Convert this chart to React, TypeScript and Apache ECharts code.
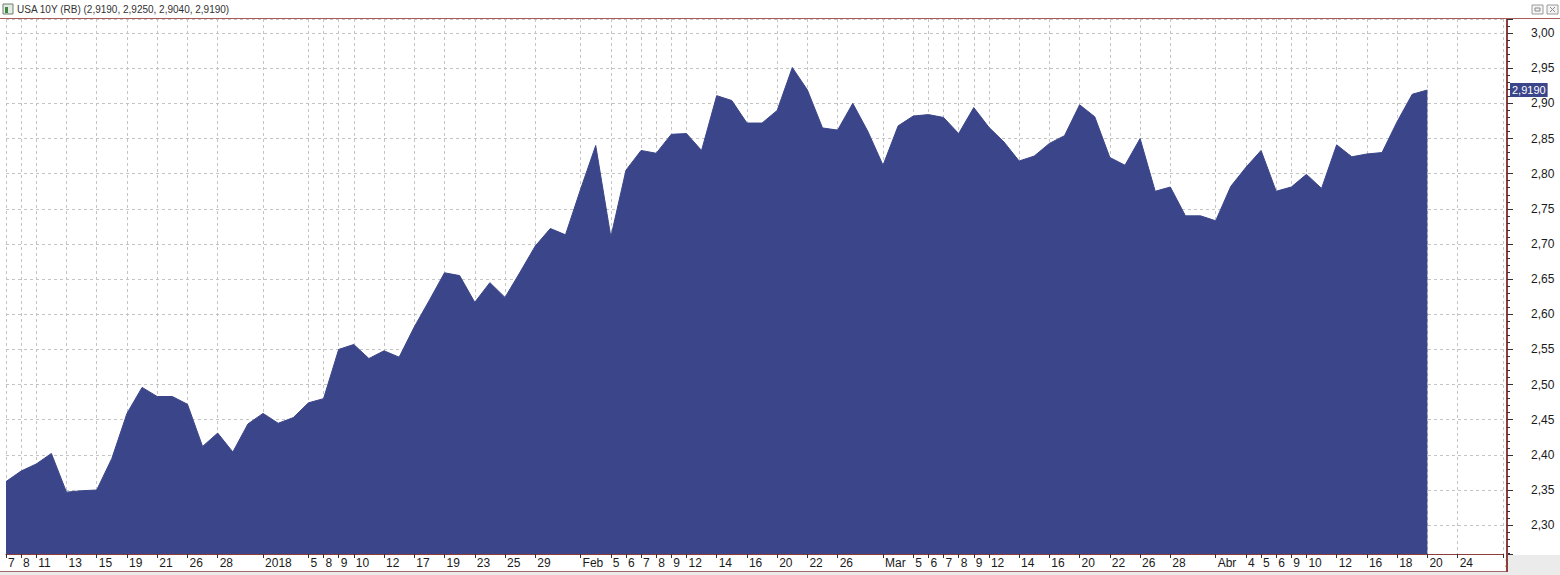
import React, { useEffect, useRef } from "react";
import * as echarts from "echarts";

// Trading days on the category axis (the last five are still empty)
const dates = [
  "2017-12-07", "2017-12-08", "2017-12-11", "2017-12-12", "2017-12-13", "2017-12-14", "2017-12-15",
  "2017-12-18", "2017-12-19", "2017-12-20", "2017-12-21", "2017-12-22", "2017-12-26", "2017-12-27",
  "2017-12-28", "2017-12-29", "2018-01-01", "2018-01-02", "2018-01-03", "2018-01-04", "2018-01-05",
  "2018-01-08", "2018-01-09", "2018-01-10", "2018-01-11", "2018-01-12", "2018-01-16", "2018-01-17",
  "2018-01-18", "2018-01-19", "2018-01-22", "2018-01-23", "2018-01-24", "2018-01-25", "2018-01-26",
  "2018-01-29", "2018-01-30", "2018-01-31", "2018-02-01", "2018-02-02", "2018-02-05", "2018-02-06",
  "2018-02-07", "2018-02-08", "2018-02-09", "2018-02-12", "2018-02-13", "2018-02-14", "2018-02-15",
  "2018-02-16", "2018-02-19", "2018-02-20", "2018-02-21", "2018-02-22", "2018-02-23", "2018-02-26",
  "2018-02-27", "2018-02-28", "2018-03-01", "2018-03-02", "2018-03-05", "2018-03-06", "2018-03-07",
  "2018-03-08", "2018-03-09", "2018-03-12", "2018-03-13", "2018-03-14", "2018-03-15", "2018-03-16",
  "2018-03-19", "2018-03-20", "2018-03-21", "2018-03-22", "2018-03-23", "2018-03-26", "2018-03-27",
  "2018-03-28", "2018-03-29", "2018-03-30", "2018-04-02", "2018-04-03", "2018-04-04", "2018-04-05",
  "2018-04-06", "2018-04-09", "2018-04-10", "2018-04-11", "2018-04-12", "2018-04-13", "2018-04-16",
  "2018-04-17", "2018-04-18", "2018-04-19", "2018-04-20", "2018-04-23", "2018-04-24", "2018-04-25",
  "2018-04-26", "2018-04-27",
];

// Daily close of the USA 10Y yield
const yields = [
  2.362, 2.377, 2.387, 2.402, 2.347, 2.349, 2.350, 2.395, 2.459, 2.496,
  2.483, 2.483, 2.472, 2.412, 2.431, 2.404, 2.444, 2.459, 2.445, 2.453,
  2.474, 2.480, 2.550, 2.557, 2.537, 2.548, 2.539, 2.582, 2.620, 2.659,
  2.655, 2.617, 2.645, 2.624, 2.660, 2.697, 2.722, 2.713, 2.778, 2.840,
  2.710, 2.805, 2.833, 2.829, 2.856, 2.857, 2.833, 2.911, 2.904, 2.872,
  2.872, 2.890, 2.951, 2.919, 2.865, 2.862, 2.900, 2.860, 2.812, 2.868,
  2.882, 2.884, 2.880, 2.857, 2.894, 2.866, 2.845, 2.818, 2.825, 2.843,
  2.854, 2.898, 2.881, 2.823, 2.812, 2.850, 2.775, 2.781, 2.740, 2.740,
  2.733, 2.782, 2.809, 2.833, 2.775, 2.781, 2.799, 2.779, 2.841, 2.824,
  2.828, 2.830, 2.874, 2.913, 2.919,
];

// Dates that carry a tick label on the time axis
const labelledDates = [
  "2017-12-07", "2017-12-08", "2017-12-11", "2017-12-13", "2017-12-15", "2017-12-19", "2017-12-21",
  "2017-12-26", "2017-12-28", "2018-01-02", "2018-01-05", "2018-01-08", "2018-01-09", "2018-01-10",
  "2018-01-12", "2018-01-17", "2018-01-19", "2018-01-23", "2018-01-25", "2018-01-29", "2018-02-01",
  "2018-02-05", "2018-02-06", "2018-02-07", "2018-02-08", "2018-02-09", "2018-02-12", "2018-02-14",
  "2018-02-16", "2018-02-20", "2018-02-22", "2018-02-26", "2018-03-01", "2018-03-05", "2018-03-06",
  "2018-03-07", "2018-03-08", "2018-03-09", "2018-03-12", "2018-03-14", "2018-03-16", "2018-03-20",
  "2018-03-22", "2018-03-26", "2018-03-28", "2018-04-02", "2018-04-04", "2018-04-05", "2018-04-06",
  "2018-04-09", "2018-04-10", "2018-04-12", "2018-04-16", "2018-04-18", "2018-04-20", "2018-04-24",
  "2018-04-27",
];

// First trading day of each period and its label
const periodStartDates = ["2018-01-02", "2018-02-01", "2018-03-01", "2018-04-02"];
const periodStartLabels = ["2018", "Feb", "Mar", "Abr"];

const instrumentName = "USA 10Y (RB)";
const lastBarOHLC = [2.919, 2.925, 2.904, 2.919];

const FONT = "Arial, 'Liberation Sans', sans-serif";
const AREA = "#3b4589";
const AXIS_RED = "#8e3d3d";

const fmt = (v: number, d: number) => v.toFixed(d).replace(".", ",");

export default function App() {
  const ref = useRef<HTMLDivElement>(null);

  useEffect(() => {
    const chart = echarts.init(ref.current!, null, { renderer: "svg" });
    const labelSet = new Set(labelledDates);
    const periodMap: Record<string, string> = {};
    periodStartDates.forEach((d, i) => (periodMap[d] = periodStartLabels[i]));
    const isLabelled = (_i: number, v: string) => labelSet.has(v);
    const isPeriod = (_i: number, v: string) => v in periodMap;
    const lastValue = yields[yields.length - 1];
    const title = `${instrumentName} (${lastBarOHLC.map((v) => fmt(v, 4)).join(", ")})`;

    const option: any = {
      animation: false,
      backgroundColor: "#ffffff",
      textStyle: { fontFamily: FONT },
      grid: [
        { left: 6, right: 57, top: 19, height: 535 },
        { left: 6, right: 57, top: 554, height: 17 },
      ],
      xAxis: [
        {
          type: "category",
          gridIndex: 0,
          data: dates,
          boundaryGap: false,
          position: "bottom",
          axisLine: { show: true, lineStyle: { color: AXIS_RED, width: 1 } },
          axisTick: { show: true, interval: isLabelled, length: 4, lineStyle: { color: "#333" } },
          axisLabel: {
            interval: isLabelled,
            formatter: (v: string) => periodMap[v] ?? String(Number(v.slice(8))),
            align: "left",
            margin: 3,
            padding: [0, 0, 0, 2],
            fontSize: 12,
            color: "#1a1a1a",
            fontFamily: FONT,
            showMaxLabel: true,
          },
          splitLine: {
            show: true,
            interval: isLabelled,
            lineStyle: { color: "#c4c4c4", type: [3, 3], width: 1 },
          },
        },
        {
          type: "category",
          gridIndex: 1,
          data: dates,
          boundaryGap: false,
          position: "top",
          axisLine: { show: false },
          axisTick: { show: true, inside: true, interval: isPeriod, length: 17, lineStyle: { color: "#333" } },
          axisLabel: { show: false },
          splitLine: { show: false },
        },
      ],
      yAxis: [
        {
          type: "value",
          gridIndex: 0,
          position: "right",
          offset: 4,
          min: 2.259,
          max: 3.02,
          splitNumber: 15,
          axisLine: { show: true, lineStyle: { color: AXIS_RED, width: 2 } },
          axisTick: { show: true, length: 6, lineStyle: { color: "#333" } },
          minorTick: { show: true, splitNumber: 5, length: 3, lineStyle: { color: "#333" } },
          axisLabel: {
            margin: 24,
            fontSize: 12,
            color: "#1a1a1a",
            fontFamily: FONT,
            showMinLabel: false,
            showMaxLabel: false,
            formatter: (v: number) => fmt(v, 2),
          },
          splitLine: { show: true, lineStyle: { color: "#c4c4c4", type: [3, 3], width: 1 } },
        },
        { type: "value", gridIndex: 1, show: false },
      ],
      series: [
        {
          type: "line",
          xAxisIndex: 0,
          yAxisIndex: 0,
          data: yields,
          symbol: "none",
          smooth: false,
          lineStyle: { color: AREA, width: 1 },
          areaStyle: { color: AREA, opacity: 1, origin: "start" },
          markLine: {
            silent: true,
            symbol: "none",
            z: 20,
            precision: 4,
            lineStyle: { color: "rgba(0,0,0,0)", width: 0, type: "solid" },
            data: [{ yAxis: lastValue }],
            label: {
              show: true,
              position: "end",
              distance: 7,
              opacity: 1,
              formatter: () => fmt(lastValue, 4),
              backgroundColor: AREA,
              color: "#ffffff",
              fontSize: 11,
              fontFamily: FONT,
              padding: [2, 2, 1, 2],
            },
          },
        },
      ],
      graphic: [
        // title bar
        { type: "rect", shape: { x: 3, y: 4, width: 10, height: 10 }, style: { fill: "#e4ebe4", stroke: "#6f7f6f", lineWidth: 1 }, z: 100 },
        { type: "rect", shape: { x: 5, y: 7, width: 3, height: 6 }, style: { fill: "#3d8a44" }, z: 101 },
        {
          type: "text",
          x: 17,
          y: 4,
          style: { text: title, fontSize: 10, fontFamily: FONT, fill: "#333333" },
          z: 100,
        },
        // window buttons
        { type: "rect", shape: { x: 1532, y: 5, width: 11, height: 9 }, style: { fill: "#f4f4f4", stroke: "#9a9a9a", lineWidth: 1 }, z: 100 },
        { type: "rect", shape: { x: 1535, y: 8, width: 5, height: 3 }, style: { fill: "none", stroke: "#8a8a8a", lineWidth: 1 }, z: 101 },
        { type: "rect", shape: { x: 1547, y: 5, width: 11, height: 9 }, style: { fill: "#f4f4f4", stroke: "#9a9a9a", lineWidth: 1 }, z: 100 },
        { type: "line", shape: { x1: 1550, y1: 7, x2: 1555, y2: 12 }, style: { stroke: "#8a8a8a", lineWidth: 1 }, z: 101 },
        { type: "line", shape: { x1: 1555, y1: 7, x2: 1550, y2: 12 }, style: { stroke: "#8a8a8a", lineWidth: 1 }, z: 101 },
        // line under title bar
        { type: "line", shape: { x1: 0, y1: 18.5, x2: 1560, y2: 18.5 }, style: { stroke: "#a85c5c", lineWidth: 1 }, z: 100 },
        // grey corners
        { type: "rect", shape: { x: 1508, y: 555, width: 52, height: 20 }, style: { fill: "#ebebeb" }, z: 100 },
        { type: "rect", shape: { x: 0, y: 572, width: 1508, height: 3 }, style: { fill: "#ebebeb" }, z: 100 },
        { type: "line", shape: { x1: 0, y1: 571.5, x2: 1508, y2: 571.5 }, style: { stroke: "#a06a6a", lineWidth: 1 }, z: 101 },
        { type: "line", shape: { x1: 1507, y1: 553, x2: 1507, y2: 572 }, style: { stroke: AXIS_RED, lineWidth: 2 }, z: 101 },
      ],
    };

    chart.setOption(option);
    return () => chart.dispose();
  }, []);

  return (
    <div
      ref={ref}
      style={{ position: "fixed", left: 0, top: 0, width: 1560, height: 575, background: "#ffffff" }}
    />
  );
}
